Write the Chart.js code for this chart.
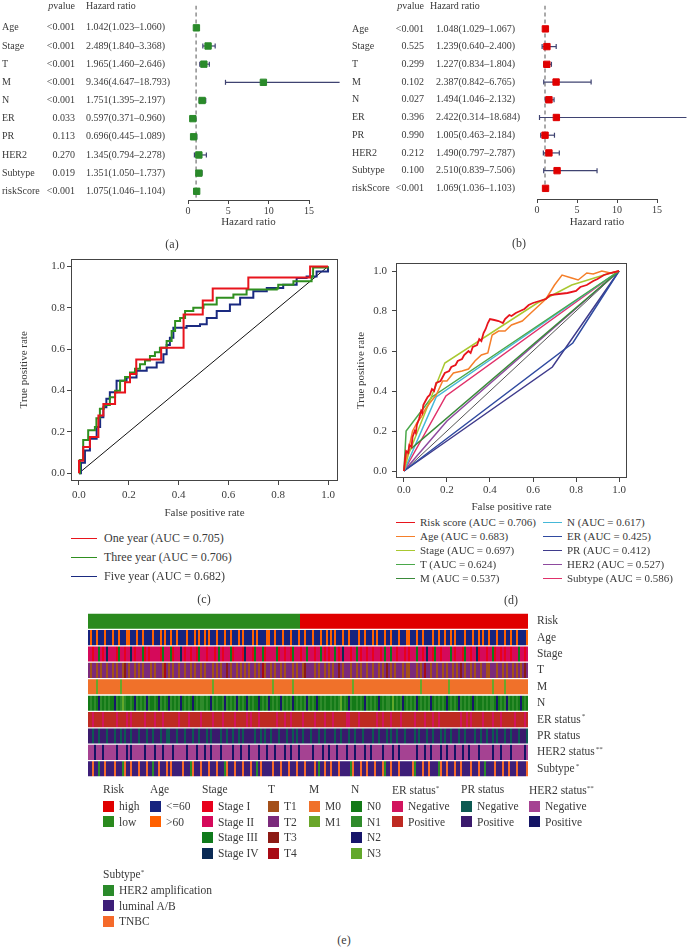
<!DOCTYPE html>
<html>
<head>
<meta charset="utf-8">
<title>Prognostic model figure</title>
<script src="https://cdn.jsdelivr.net/npm/chart.js@4.4.1/dist/chart.umd.min.js"></script>
<style>
  body { margin: 0; width: 688px; height: 949px; position: relative; overflow: hidden; background: #fff;
         font-family: "Liberation Serif", "DejaVu Serif", serif; color: #3a3a3a; }
  canvas { position: absolute; }
  .tag { position: absolute; font-size: 12px; transform: translate(-50%, -50%); }
  .key { position: absolute; font-size: 11.5px; line-height: 14px; white-space: nowrap; transform: translateY(-50%); }
  .key i { display: inline-block; vertical-align: middle; margin-right: 5px; margin-top: -2px; }
  .key sup { font-size: 7px; vertical-align: 4px; }
</style>
</head>
<body>
<canvas id="forest-a" width="344" height="229" style="left:0;top:0"></canvas>
<canvas id="forest-b" width="344" height="229" style="left:344px;top:0"></canvas>
<canvas id="roc-c" width="344" height="270" style="left:0;top:250px"></canvas>
<canvas id="roc-d" width="344" height="264" style="left:344px;top:250px"></canvas>
<canvas id="heat-e" width="688" height="185" style="left:0;top:600px"></canvas>
<div class="tag" style="left:172px;top:244px">(a)</div>
<div class="tag" style="left:519px;top:243px">(b)</div>
<div class="tag" style="left:204px;top:599px">(c)</div>
<div class="tag" style="left:511px;top:600px">(d)</div>
<div class="tag" style="left:344px;top:940px">(e)</div>
<div id="keys"></div>

<script>
// ---- forest plots (a) univariate, (b) multivariate ----
const forestVars = ["Age", "Stage", "T", "M", "N", "ER", "PR", "HER2", "Subtype", "riskScore"];
const uniP = ["<0.001", "<0.001", "<0.001", "<0.001", "<0.001", "0.033", "0.113", "0.270", "0.019", "<0.001"];
const uniHR = [1.042, 2.489, 1.965, 9.346, 1.751, 0.597, 0.696, 1.345, 1.351, 1.075];
const uniLow = [1.023, 1.840, 1.460, 4.647, 1.395, 0.371, 0.445, 0.794, 1.050, 1.046];
const uniHigh = [1.060, 3.368, 2.646, 18.793, 2.197, 0.960, 1.089, 2.278, 1.737, 1.104];
const multiP = ["<0.001", "0.525", "0.299", "0.102", "0.027", "0.396", "0.990", "0.212", "0.100", "<0.001"];
const multiHR = [1.048, 1.239, 1.227, 2.387, 1.494, 2.422, 1.005, 1.490, 2.510, 1.069];
const multiLow = [1.029, 0.640, 0.834, 0.842, 1.046, 0.314, 0.463, 0.797, 0.839, 1.036];
const multiHigh = [1.067, 2.400, 1.804, 6.765, 2.132, 18.684, 2.184, 2.787, 7.506, 1.103];
const hrTicks = [0, 5, 10, 15];

// ---- ROC curves (c): [fpr, tpr] corner points ----
const oneYearRoc = [[0,0],[0,0.06],[0.017,0.127],[0.044,0.175],[0.078,0.279],[0.098,0.335],[0.145,0.39],[0.185,0.44],
  [0.205,0.48],[0.23,0.55],[0.33,0.607],[0.42,0.768],[0.497,0.835],[0.537,0.893],[0.68,0.947],[0.928,1],[1,1]];
const threeYearRoc = [[0,0],[0.004,0.064],[0.017,0.16],[0.037,0.208],[0.064,0.223],[0.07,0.266],[0.084,0.311],[0.1,0.33],
  [0.124,0.367],[0.145,0.399],[0.165,0.447],[0.185,0.465],[0.205,0.487],[0.225,0.505],[0.245,0.527],[0.265,0.545],
  [0.285,0.567],[0.305,0.585],[0.325,0.607],[0.352,0.639],[0.372,0.688],[0.386,0.736],[0.406,0.751],[0.426,0.784],
  [0.459,0.8],[0.5,0.816],[0.553,0.848],[0.62,0.864],[0.673,0.888],[0.794,0.893],[0.8,0.912],[0.861,0.928],
  [0.934,0.952],[0.94,0.995],[1,1]];
const fiveYearRoc = [[0,0],[0.008,0.05],[0.024,0.11],[0.044,0.167],[0.071,0.223],[0.085,0.27],[0.098,0.319],[0.11,0.36],
  [0.124,0.391],[0.151,0.447],[0.191,0.463],[0.231,0.495],[0.272,0.511],[0.312,0.535],[0.339,0.575],[0.352,0.62],
  [0.365,0.655],[0.379,0.703],[0.432,0.712],[0.486,0.72],[0.513,0.751],[0.553,0.784],[0.606,0.816],[0.647,0.848],
  [0.7,0.88],[0.754,0.896],[0.82,0.912],[0.874,0.944],[0.914,0.952],[0.954,0.976],[1,1]];
const timeNames = ["One year", "Three year", "Five year"];
const timeAuc = [0.705, 0.706, 0.682];

// ---- ROC curves (d) ----
const riskScoreRoc = [[0,0],[0.005,0.06],[0.01,0.1],[0.02,0.09],[0.025,0.13],[0.035,0.12],[0.04,0.17],[0.05,0.2],
  [0.055,0.19],[0.06,0.23],[0.07,0.26],[0.08,0.3],[0.085,0.29],[0.09,0.33],[0.1,0.35],[0.11,0.37],[0.12,0.38],
  [0.13,0.41],[0.14,0.4],[0.15,0.44],[0.17,0.45],[0.18,0.47],[0.19,0.49],[0.21,0.5],[0.22,0.52],[0.24,0.53],
  [0.25,0.55],[0.27,0.56],[0.28,0.58],[0.3,0.6],[0.31,0.59],[0.32,0.62],[0.34,0.63],[0.35,0.66],[0.36,0.65],
  [0.37,0.69],[0.38,0.71],[0.39,0.74],[0.4,0.76],[0.42,0.755],[0.44,0.75],[0.46,0.74],[0.47,0.76],[0.49,0.78],
  [0.5,0.775],[0.52,0.79],[0.54,0.8],[0.56,0.81],[0.58,0.83],[0.6,0.84],[0.63,0.85],[0.66,0.86],[0.68,0.88],
  [0.72,0.885],[0.76,0.89],[0.8,0.9],[0.82,0.92],[0.85,0.93],[0.88,0.95],[0.9,0.96],[0.93,0.98],[0.96,0.99],[1,1]];
const ageRoc = [[0,0],[0.005,0.04],[0.02,0.1],[0.03,0.15],[0.04,0.2],[0.05,0.22],[0.06,0.24],[0.08,0.27],[0.1,0.31],
  [0.12,0.34],[0.15,0.38],[0.18,0.45],[0.2,0.45],[0.23,0.49],[0.27,0.5],[0.3,0.51],[0.33,0.55],[0.36,0.58],
  [0.39,0.59],[0.41,0.68],[0.44,0.7],[0.47,0.7],[0.5,0.73],[0.55,0.75],[0.58,0.78],[0.62,0.82],[0.66,0.86],
  [0.7,0.93],[0.735,0.98],[0.78,0.965],[0.81,0.955],[0.85,0.99],[0.88,0.985],[0.92,1],[0.96,0.99],[1,1]];
const stageRoc = [[0,0],[0.02,0.08],[0.19,0.54],[0.62,0.84],[0.78,0.93],[0.93,0.98],[1,1]];
const tRoc = [[0,0],[0.01,0.2],[0.13,0.37],[1,1]];
const mRoc = [[0,0],[0.01,0.09],[1,1]];
const nRoc = [[0,0],[0.15,0.37],[1,1]];
const erRoc = [[0,0],[0.785,0.64],[1,1]];
const prRoc = [[0,0],[0.69,0.52],[1,1]];
const her2Roc = [[0,0],[0.2,0.25],[1,1]];
const subtypeRoc = [[0,0],[0.195,0.375],[1,1]];
const factorNames = ["Risk score", "Age", "Stage", "T", "M", "N", "ER", "PR", "HER2", "Subtype"];
const factorAuc = [0.706, 0.683, 0.697, 0.624, 0.537, 0.617, 0.425, 0.412, 0.527, 0.586];
const rocTicks = [0, 0.2, 0.4, 0.6, 0.8, 1.0];

// ---- heatmap (e): one code per patient column ----
const heatRows = ["Risk", "Age", "Stage", "T", "M", "N", "ER status", "PR status", "HER2 status", "Subtype"];
const heatStars = ["", "", "", "", "", "", "*", "", "**", "*"];
const riskCodes =
  "1111111111 1111111111 1111111111 1111111111 1111111111 1111111111 1111111111 1111111111 1111111111 1111111111 1111110000 " +
  "0000000000 0000000000 0000000000 0000000000 0000000000 0000000000 0000000000 0000000000 0000000000 0000000000 0000000000";
const ageCodes =
  "0100100010 0010010001 1000100100 0010001010 0100100001 0001010010 1000100010 0100010100 0010100001 1001000100 0100010010 " +
  "0010001001 0101000100 1000010010 0010100010 0100010001 1000100100 0010010010 0101000010 0010010100 1000100010 0100100001";
const stageCodes =
  "1101121013 1111021101 1310111201 0111110211 1201113101 1011021110 1110121011 1201111031 1102111201 1111201101 1021110112 " +
  "1110112101 0112101311 1011210110 1101110121 1211011101 0111211013 1102110111 1210111021 1011301110 1120110101 1011121101";
const tCodes =
  "1011010110 1101011021 0110101011 1010111031 0101101101 1010110101 1101010112 1011010101 0110101301 1010110101 1101011021 " +
  "1110101101 0101121011 1011010110 1101101012 1010111010 0111010131 1011011010 1101012101 1010110110 0111011010 1101010121";
const mCodes =
  "0000100000 0000001000 0000000000 0000000000 0000000000 0000000000 0010000000 0000000000 0000000000 0010000000 0010000000 " +
  "0000000000 0000000000 0010000000 0000000000 0000000000 0000001000 0000000000 1000000000 0000000000 0010000010 0000000000";
const nCodes =
  "0101021010 1002101310 0102101012 1001021010 2101012010 1020101101 0210100121 0101210102 1010020101 2010102101 0120101012 " +
  "1010201010 0101013010 2100101021 0101020101 1030101201 0101201010 1201010102 0101021010 1020100101 0110201012 1010102010";
const erCodes =
  "1101111011 1111011110 1011111101 1110111011 1111101111 0111110111 1101111011 1110111110 1011101111 1111011101 1011111011 " +
  "1110111101 1101111110 0111101111 1111011011 1011110111 1110111101 1101101111 1111110110 1011111011 1101110111 1110111101";
const prCodes =
  "1101101110 1110110101 1011101110 1101110110 0111011101 1101101110 1011110110 1101101011 1110110101 1011101110 1101011011 " +
  "1011101101 1110110111 0110111011 1101101110 1011011101 1110101110 1101110101 1011101101 1110110110 1101011101 1011101110";
const her2Codes =
  "0001000100 0000100001 0100000010 0001000100 0010000001 0000100010 0100001000 0010001000 1000010001 0001000010 0100010000 " +
  "0010000100 1000100001 0001000010 0100000100 0010010000 0000100010 0100001001 0001000100 1000010000 0010001000 0100000010";
const subtypeCodes =
  "1121101121 1112111021 1211121112 1101121112 1211111211 1021112111 2111211102 1112111211 1211012111 1121112111 2111211121 " +
  "1112101121 1211121111 1021112112 1112111201 1211121111 1120111211 2111102112 1112112111 1211121101 1112111211 2111211112";

const riskLevels = ["high", "low"];
const ageLevels = ["<=60", ">60"];
const stageLevels = ["Stage I", "Stage II", "Stage III", "Stage IV"];
const tLevels = ["T1", "T2", "T3", "T4"];
const mLevels = ["M0", "M1"];
const nLevels = ["N0", "N1", "N2", "N3"];
const statusLevels = ["Negative", "Positive"];
const subtypeLevels = ["HER2 amplification", "luminal A/B", "TNBC"];

const riskColors = ["#e00000", "#2a8a1e"];
const ageColors = ["#16237e", "#ff6000"];
const stageColors = ["#e8001c", "#d5095a", "#0f7a1c", "#0a2a55"];
const tColors = ["#a4501a", "#7b2a7b", "#8c1a14", "#a80a14"];
const mColors = ["#f0712a", "#6aa62a"];
const nColors = ["#137a17", "#2f8b2b", "#17166a", "#62a82a"];
const erColors = ["#d2145e", "#be2a22"];
const prColors = ["#0d5a52", "#3a1a6c"];
const her2Colors = ["#a54292", "#141464"];
const subtypeColors = ["#2a8a2a", "#3d1e78", "#f56a2a"];

const serif = '"Liberation Serif", "DejaVu Serif", serif';
const textColor = "#3a3a3a";
const axisColor = "#444";
const whiskerColor = "#3f4371";

Chart.defaults.font.family = serif;
Chart.defaults.color = textColor;

function forestText(p, hr, low, high, cols) {
  return {
    id: "forestText",
    afterDraw(chart) {
      const ctx = chart.ctx, y = chart.scales.y;
      ctx.save();
      ctx.fillStyle = textColor;
      ctx.textBaseline = "middle";
      ctx.font = "10px " + serif;
      forestVars.forEach((name, i) => {
        const yy = y.getPixelForValue(i + 1);
        ctx.textAlign = "left";
        ctx.fillText(name, cols.name, yy);
        ctx.textAlign = "right";
        ctx.fillText(p[i], cols.p, yy);
        ctx.textAlign = "left";
        ctx.fillText(hr[i].toFixed(3) + "(" + low[i].toFixed(3) + "\u2013" + high[i].toFixed(3) + ")", cols.hr, yy);
      });
      ctx.textAlign = "right";
      ctx.fillText("value", cols.p, cols.head);
      const w = ctx.measureText("value").width;
      ctx.font = "italic 10px " + serif;
      ctx.fillText("p", cols.p - w, cols.head);
      ctx.font = "10px " + serif;
      ctx.textAlign = "left";
      ctx.fillText("Hazard ratio", cols.hrHead, cols.head);
      ctx.restore();
    }
  };
}

function drawForest(id, p, hr, low, high, markColor, lay) {
  const datasets = [{
    data: hr.map((v, i) => ({ x: v, y: i + 1 })),
    pointStyle: "rect", pointRadius: 4.5, backgroundColor: markColor, borderColor: markColor
  }];
  low.forEach((lo, i) => {
    datasets.push({
      data: [{ x: lo, y: i + 1 }, { x: high[i], y: i + 1 }],
      showLine: true, borderColor: whiskerColor, borderWidth: 1.2,
      pointStyle: "line", pointRotation: 90, pointRadius: 2.5,
      pointBorderColor: whiskerColor, pointBorderWidth: 1.2, clip: false
    });
  });
  datasets.push({
    data: [{ x: 1, y: lay.yMin }, { x: 1, y: 10.35 }],
    showLine: true, borderColor: "#555", borderWidth: 1, borderDash: [4, 3], pointRadius: 0
  });

  new Chart(document.getElementById(id), {
    type: "scatter",
    data: { datasets },
    options: {
      responsive: false, animation: false, events: [],
      layout: { padding: { left: lay.left, right: lay.right, top: 0, bottom: 0 } },
      plugins: { legend: { display: false }, tooltip: { enabled: false } },
      scales: {
        x: {
          type: "linear", min: 0, max: 15,
          afterBuildTicks: s => { s.ticks = hrTicks.map(v => ({ value: v })); },
          afterFit: s => { s.height = lay.axisH; },
          grid: { drawOnChartArea: false, tickLength: 4, color: axisColor },
          border: { display: true, color: axisColor },
          ticks: { padding: 1, font: { size: 10 }, color: textColor },
          title: { display: true, text: "Hazard ratio", font: { size: 11 }, color: textColor, padding: 0 }
        },
        y: { type: "linear", display: false, reverse: true, min: lay.yMin, max: lay.yMax }
      }
    },
    plugins: [forestText(p, hr, low, high, lay.cols)]
  });
}

drawForest("forest-a", uniP, uniHR, uniLow, uniHigh, "#2a8a2a",
  { left: 188, right: 35, axisH: 29, yMin: -0.23, yMax: 10.48, cols: { name: 2, p: 75, hr: 86, hrHead: 86, head: 6 } });
drawForest("forest-b", multiP, multiHR, multiLow, multiHigh, "#e00000",
  { left: 193, right: 31, axisH: 30, yMin: -0.32, yMax: 10.6, cols: { name: 8, p: 80, hr: 92, hrHead: 86, head: 6 } });

const boxPlugin = {
  id: "box",
  afterDatasetsDraw(chart) {
    const a = chart.chartArea, ctx = chart.ctx;
    ctx.save();
    ctx.strokeStyle = axisColor;
    ctx.lineWidth = 1;
    ctx.strokeRect(Math.round(a.left) + 0.5, Math.round(a.top) + 0.5, Math.round(a.right - a.left) - 1, Math.round(a.bottom - a.top) - 1);
    ctx.restore();
  }
};

function drawRoc(id, curves, lay) {
  const datasets = curves.map(c => ({
    data: c.pts.map(([x, y]) => ({ x, y })),
    showLine: true, borderColor: c.color, borderWidth: c.width,
    stepped: c.stepped ? "before" : false, pointRadius: 0
  }));
  datasets.push({ data: [{ x: 0, y: 0 }, { x: 1, y: 1 }], showLine: true, borderColor: lay.diag, borderWidth: 1, pointRadius: 0 });

  new Chart(document.getElementById(id), {
    type: "scatter",
    data: { datasets },
    options: {
      responsive: false, animation: false, events: [],
      layout: { padding: { left: 0, right: lay.right, top: lay.top, bottom: 0 } },
      plugins: { legend: { display: false }, tooltip: { enabled: false } },
      scales: {
        x: {
          type: "linear", min: lay.xMin, max: lay.xMax,
          afterBuildTicks: s => { s.ticks = rocTicks.map(v => ({ value: v })); },
          afterFit: s => { s.height = lay.axisH; },
          grid: { drawOnChartArea: false, tickLength: 4, color: axisColor },
          border: { display: false },
          ticks: { padding: lay.xPad, font: { size: 11 }, color: textColor, callback: v => v.toFixed(1) },
          title: { display: true, text: "False positive rate", font: { size: 11 }, color: textColor, padding: 0 }
        },
        y: {
          type: "linear", min: lay.yMin, max: lay.yMax,
          afterBuildTicks: s => { s.ticks = rocTicks.map(v => ({ value: v })); },
          afterFit: s => { s.width = lay.axisW; },
          grid: { drawOnChartArea: false, tickLength: 4, color: axisColor },
          border: { display: false },
          ticks: { padding: lay.yPad, font: { size: 11 }, color: textColor, callback: v => v.toFixed(1) },
          title: { display: true, text: "True positive rate", font: { size: 11 }, color: textColor, padding: { top: lay.titlePad, bottom: 0 } }
        }
      }
    },
    plugins: [boxPlugin]
  });
}

const timeColors = ["#e8141c", "#2f8f1f", "#1a2a80"];
drawRoc("roc-c", [
  { pts: oneYearRoc, color: timeColors[0], width: 2, stepped: true },
  { pts: threeYearRoc, color: timeColors[1], width: 2, stepped: true },
  { pts: fiveYearRoc, color: timeColors[2], width: 2, stepped: true }
], { right: 6, top: 7, axisH: 39, axisW: 71, xMin: -0.032, xMax: 1.04, yMin: -0.038, yMax: 1.038,
     xPad: 4, yPad: 2, titlePad: 18, diag: "#111" });

const factorColors = ["#e8141c", "#f57f2a", "#a9c830", "#4aa84a", "#3a8a3a", "#45b8d8", "#2f4aa0", "#3f3b8c", "#8e4a9e", "#e0306a"];
const factorRocs = [riskScoreRoc, ageRoc, stageRoc, tRoc, mRoc, nRoc, erRoc, prRoc, her2Roc, subtypeRoc];
drawRoc("roc-d", factorRocs.map((pts, i) => ({ pts, color: factorColors[i], width: i === 0 ? 1.8 : 1.5, stepped: false })),
  { right: 61, top: 13, axisH: 36, axisW: 52, xMin: -0.037, xMax: 1.037, yMin: -0.035, yMax: 1.04,
    xPad: 2, yPad: 5, titlePad: 11, diag: "#555" });

// ---- heatmap ----
const heatCodes = [riskCodes, ageCodes, stageCodes, tCodes, mCodes, nCodes, erCodes, prCodes, her2Codes, subtypeCodes]
  .map(s => s.replace(/ /g, ""));
const heatPalettes = [riskColors, ageColors, stageColors, tColors, mColors, nColors, erColors, prColors, her2Colors, subtypeColors];
const nCols = heatCodes[0].length;
const heatSets = [];
for (let j = 0; j < nCols; j++) {
  heatSets.push({
    data: heatRows.map(() => 1),
    backgroundColor: heatCodes.map((codes, r) => heatPalettes[r][+codes[j]]),
    borderWidth: 0, barPercentage: 1, categoryPercentage: 0.92, stack: "cols"
  });
}

const heatLabels = {
  id: "heatLabels",
  afterDraw(chart) {
    const ctx = chart.ctx, y = chart.scales.y, x0 = chart.chartArea.right + 9;
    ctx.save();
    ctx.fillStyle = textColor;
    ctx.textBaseline = "middle";
    ctx.textAlign = "left";
    heatRows.forEach((name, i) => {
      const yy = y.getPixelForValue(i);
      ctx.font = "11.5px " + serif;
      ctx.fillText(name, x0, yy);
      if (heatStars[i]) {
        const w = ctx.measureText(name).width;
        ctx.font = "7px " + serif;
        ctx.fillText(heatStars[i], x0 + w + 1, yy - 3);
      }
    });
    ctx.restore();
  }
};

new Chart(document.getElementById("heat-e"), {
  type: "bar",
  data: { labels: heatRows, datasets: heatSets },
  options: {
    indexAxis: "y", responsive: false, animation: false, events: [],
    layout: { padding: { left: 88, right: 160, top: 13, bottom: 8 } },
    plugins: { legend: { display: false }, tooltip: { enabled: false } },
    scales: {
      x: { stacked: true, min: 0, max: nCols, display: false },
      y: { stacked: true, display: false }
    }
  },
  plugins: [heatLabels]
});

// ---- legends ----
const keys = document.getElementById("keys");
function addKey(x, y, html, size) {
  const d = document.createElement("div");
  d.className = "key";
  d.style.left = x + "px";
  d.style.top = y + "px";
  if (size) d.style.fontSize = size + "px";
  d.innerHTML = html;
  keys.appendChild(d);
}

// (c) legend
timeNames.forEach((name, i) => {
  addKey(71, 538 + i * 19.2, '<i style="width:26px;height:0;border-top:1.5px solid ' + timeColors[i] +
    ';margin-right:7px"></i>' + name + " (AUC = " + timeAuc[i].toFixed(3) + ")", 12);
});

// (d) legend, two columns of five
factorNames.forEach((name, i) => {
  const col = Math.floor(i / 5), row = i % 5;
  addKey(col ? 543 : 396, 522 + row * 14, '<i style="width:19px;height:0;border-top:1.5px solid ' + factorColors[i] +
    ';margin-right:5px"></i>' + name + " (AUC = " + factorAuc[i].toFixed(3) + ")", 11);
});

// (e) legend
const keyGroups = [
  ["Risk", "", riskLevels, riskColors],
  ["Age", "", ageLevels, ageColors],
  ["Stage", "", stageLevels, stageColors],
  ["T", "", tLevels, tColors],
  ["M", "", mLevels, mColors],
  ["N", "", nLevels, nColors],
  ["ER status", "*", statusLevels, erColors],
  ["PR status", "", statusLevels, prColors],
  ["HER2 status", "**", statusLevels, her2Colors],
  ["Subtype", "*", subtypeLevels, subtypeColors]
];
const keyX = [103, 150, 202, 268, 309, 351, 392, 461, 529, 103];
const keyTop = [789, 789, 789, 789, 789, 789, 789, 789, 789, 873];
keyGroups.forEach(([title, star, levels, colors], g) => {
  addKey(keyX[g], keyTop[g], title + (star ? "<sup>" + star + "</sup>" : ""));
  levels.forEach((lv, k) => {
    addKey(keyX[g], keyTop[g] + 17 + k * 15.6,
      '<i style="width:11px;height:11px;background:' + colors[k] + '"></i>' + lv);
  });
});
</script>
</body>
</html>
